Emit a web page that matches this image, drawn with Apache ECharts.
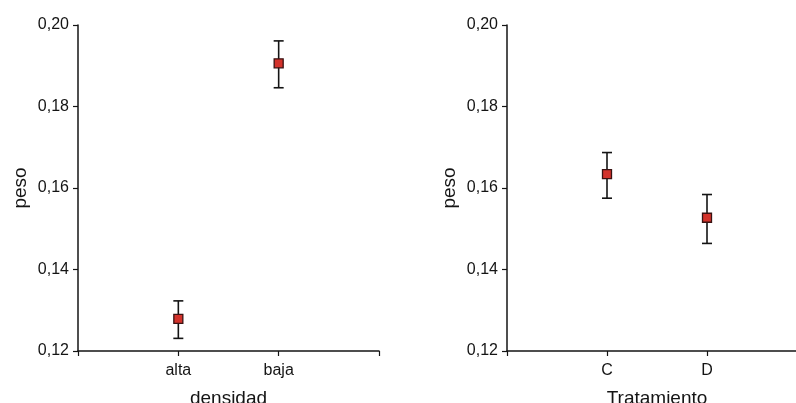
<!DOCTYPE html>
<html>
<head>
<meta charset="utf-8">
<script src="https://cdn.jsdelivr.net/npm/echarts@6/dist/echarts.min.js"></script>
<style>
  html, body { margin: 0; padding: 0; background: #fff; }
  #chart { width: 796px; height: 403px; }
</style>
</head>
<body>
<div id="chart"></div>
<script>
// Category slots: blank slots at both ends keep the points at 1/3 and 2/3 of the axis
const densidadCats = ['', 'alta', 'baja', ''];
const tratamientoCats = ['', 'C', 'D', ''];

// Mean weight and error-bar limits per group
const densidadMean = [0.1279, 0.1906];
const densidadLow  = [0.1231, 0.1846];
const densidadHigh = [0.1323, 0.1961];

const tratamientoMean = [0.1634, 0.1527];
const tratamientoLow  = [0.1575, 0.1464];
const tratamientoHigh = [0.1687, 0.1584];

const yTicks = { min: 0.12, max: 0.20, step: 0.02 };

const FONT = '"Liberation Sans", Arial, sans-serif';
const INK = '#141414';

function yAxis(gridIndex) {
  return {
    type: 'value', gridIndex,
    min: yTicks.min, max: yTicks.max, interval: yTicks.step,
    name: 'peso', nameLocation: 'middle', nameGap: 48,
    nameTextStyle: { fontFamily: FONT, fontSize: 19, color: INK },
    axisLine: { show: true, lineStyle: { color: INK, width: 1.5 } },
    axisTick: { show: true, length: 5, lineStyle: { color: INK, width: 1.2 } },
    splitLine: { show: false },
    axisLabel: {
      margin: 9, fontFamily: FONT, fontSize: 16, color: INK,
      padding: [0, 0, 3, 0],
      formatter: v => v.toFixed(2).replace('.', ',')
    }
  };
}

function xAxis(gridIndex, cats, title) {
  return {
    type: 'category', gridIndex, data: cats, boundaryGap: false,
    name: title, nameLocation: 'middle', nameGap: 38,
    nameTextStyle: { fontFamily: FONT, fontSize: 19, color: INK },
    axisLine: { show: true, lineStyle: { color: INK, width: 1.5 } },
    axisTick: { show: true, length: 5, alignWithLabel: true, lineStyle: { color: INK, width: 1.2 } },
    splitLine: { show: false },
    axisLabel: { margin: 12, fontFamily: FONT, fontSize: 16, color: INK, interval: 0 }
  };
}

function points(cats, mean) {
  return mean.map((m, i) => [cats[i + 1], m]);
}
function bars(cats, low, high) {
  return low.map((l, i) => [cats[i + 1], l, high[i]]);
}

function errorSeries(axisIndex, data) {
  return {
    type: 'custom', xAxisIndex: axisIndex, yAxisIndex: axisIndex,
    data, z: 2,
    renderItem(params, api) {
      const x = api.value(0);
      const lo = api.coord([x, api.value(1)]);
      const hi = api.coord([x, api.value(2)]);
      const half = 5;
      const style = { stroke: INK, lineWidth: 1.6 };
      return {
        type: 'group',
        children: [
          { type: 'line', shape: { x1: lo[0], y1: lo[1], x2: hi[0], y2: hi[1] }, style },
          { type: 'line', shape: { x1: lo[0] - half, y1: lo[1], x2: lo[0] + half, y2: lo[1] }, style },
          { type: 'line', shape: { x1: hi[0] - half, y1: hi[1], x2: hi[0] + half, y2: hi[1] }, style }
        ]
      };
    }
  };
}

function markerSeries(axisIndex, data) {
  return {
    type: 'scatter', xAxisIndex: axisIndex, yAxisIndex: axisIndex,
    data, z: 3, symbol: 'rect', symbolSize: 9,
    itemStyle: { color: '#d3322b', borderColor: '#3a1212', borderWidth: 1.3, opacity: 1 }
  };
}

const chart = echarts.init(document.getElementById('chart'), null, { renderer: 'canvas' });
chart.setOption({
  animation: false,
  backgroundColor: '#ffffff',
  grid: [
    { left: 78, top: 25, width: 301, height: 326, outerBoundsMode: 'none', containLabel: false },
    { left: 507, top: 25, width: 300, height: 326, outerBoundsMode: 'none', containLabel: false }
  ],
  xAxis: [
    xAxis(0, densidadCats, 'densidad'),
    xAxis(1, tratamientoCats, 'Tratamiento')
  ],
  yAxis: [yAxis(0), yAxis(1)],
  series: [
    errorSeries(0, bars(densidadCats, densidadLow, densidadHigh)),
    markerSeries(0, points(densidadCats, densidadMean)),
    errorSeries(1, bars(tratamientoCats, tratamientoLow, tratamientoHigh)),
    markerSeries(1, points(tratamientoCats, tratamientoMean))
  ]
});
</script>
</body>
</html>
